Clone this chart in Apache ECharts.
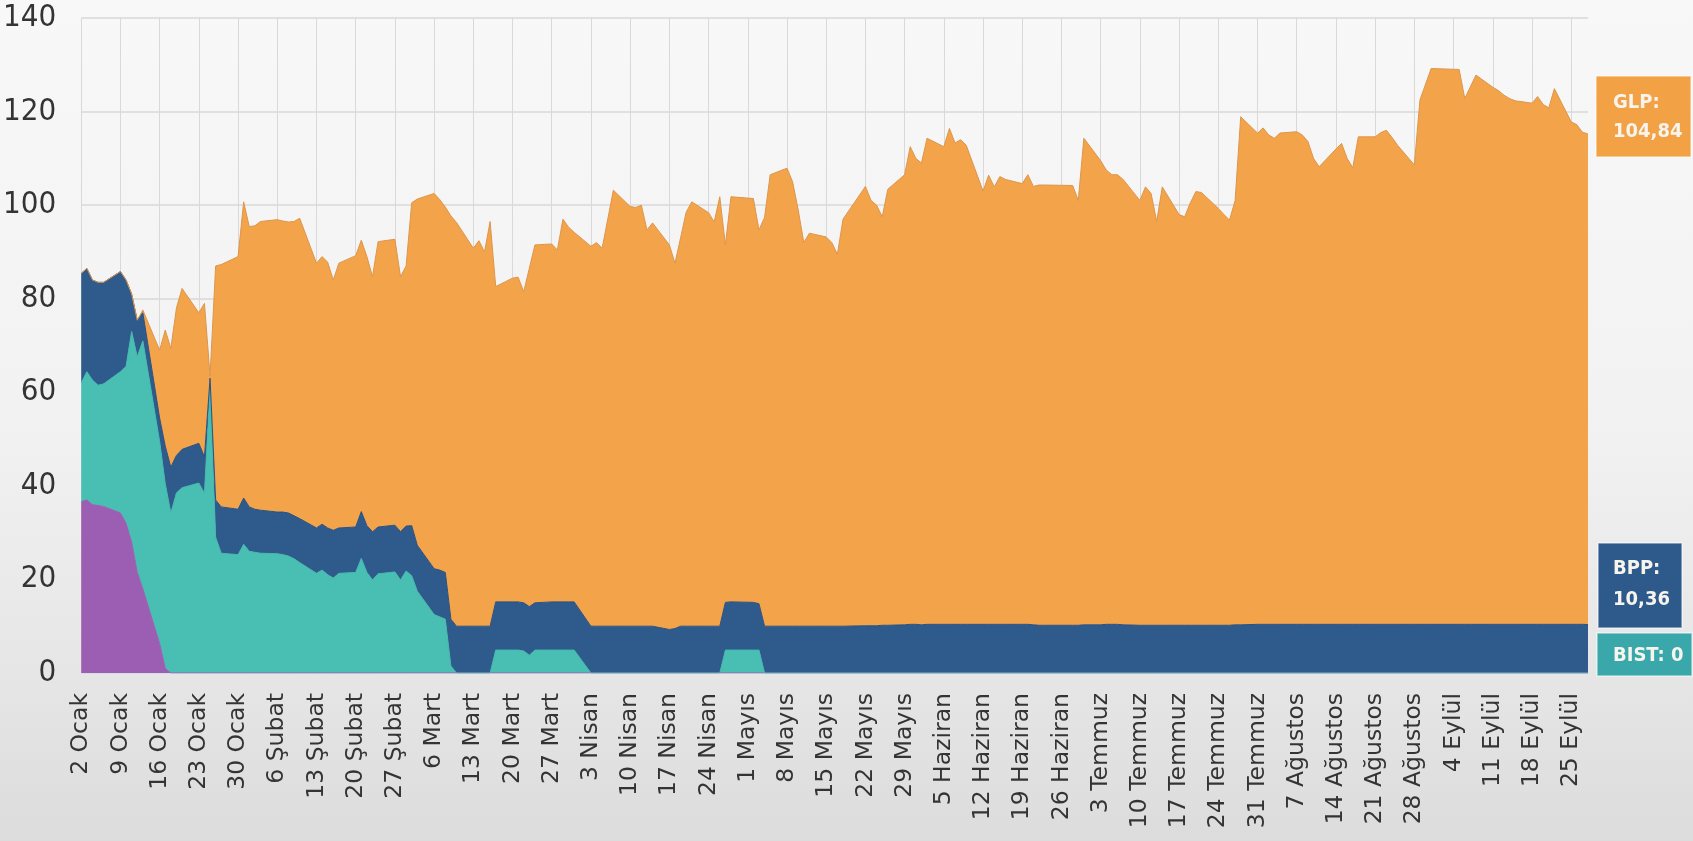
<!DOCTYPE html>
<html>
<head>
<meta charset="utf-8">
<script src="https://cdn.jsdelivr.net/npm/echarts@6/dist/echarts.min.js"></script>
<style>
  html, body { margin: 0; padding: 0; width: 1693px; height: 841px; overflow: hidden; }
  #chart { width: 1693px; height: 841px; }
</style>
</head>
<body>
<div id="chart"></div>
<script>
// Business days from 2 Ocak to 28 Eylül 2017, official holidays left out
const startDate = [2017, 0, 2];
const endDate = [2017, 8, 28];
const holidays = ['2017-05-01', '2017-05-19', '2017-06-26', '2017-06-27', '2017-08-30', '2017-09-01', '2017-09-04'];
const monthNames = ['Ocak', 'Şubat', 'Mart', 'Nisan', 'Mayıs', 'Haziran', 'Temmuz', 'Ağustos', 'Eylül', 'Ekim', 'Kasım', 'Aralık'];
const yTicks = { min: 0, max: 140, step: 20 };

// Funding by channel (milyar TL), one row per week
const diger = [
  36.6, 37, 36, 35.8, 35.6,
  34.2, 32, 28, 21.5, 18,
  6.3, 1, 0, 0, 0,
  0, 0, 0, 0, 0,
  0, 0, 0, 0, 0,
  0, 0, 0, 0, 0,
  0, 0, 0, 0, 0,
  0, 0, 0, 0, 0,
  0, 0, 0, 0, 0,
  0, 0, 0, 0, 0,
  0, 0, 0, 0, 0,
  0, 0, 0, 0, 0,
  0, 0, 0, 0, 0,
  0, 0, 0, 0, 0,
  0, 0, 0, 0, 0,
  0, 0, 0, 0, 0,
  0, 0, 0, 0, 0,
  0, 0, 0, 0,
  0, 0, 0, 0, 0,
  0, 0, 0, 0,
  0, 0, 0, 0, 0,
  0, 0, 0, 0, 0,
  0, 0, 0, 0, 0,
  0, 0, 0, 0, 0,
  0, 0, 0, 0, 0,
  0, 0, 0,
  0, 0, 0, 0, 0,
  0, 0, 0, 0, 0,
  0, 0, 0, 0, 0,
  0, 0, 0, 0, 0,
  0, 0, 0, 0, 0,
  0, 0, 0, 0, 0,
  0, 0, 0, 0, 0,
  0, 0, 0, 0, 0,
  0, 0, 0,
  0, 0, 0, 0,
  0, 0, 0, 0, 0,
  0, 0, 0, 0, 0,
  0, 0, 0, 0
];

const bist = [
  25.4, 27.4, 26.6, 25.7, 26.2,
  30.2, 33.5, 45, 46.1, 53,
  43.2, 39.5, 34.2, 38.5, 39.6,
  40.6, 38.4, 61, 29, 25.6,
  25.3, 27.5, 26, 25.8, 25.6,
  25.5, 25.3, 25, 24.4, 23.6,
  21.3, 22, 21, 20.3, 21.3,
  21.5, 24.5, 21.5, 19.9, 21.2,
  21.6, 19.9, 21.8, 20.8, 17.5,
  12.5, 12, 11.5, 1.5, 0,
  0, 0, 0, 0, 4.9,
  4.9, 4.9, 4.7, 3.8, 4.9,
  4.9, 4.9, 4.9, 4.9, 4.9,
  0, 0, 0, 0, 0,
  0, 0, 0, 0, 0,
  0, 0, 0, 0, 0,
  0, 0, 0, 4.9, 4.9,
  4.9, 4.9, 0, 0,
  0, 0, 0, 0, 0,
  0, 0, 0, 0,
  0, 0, 0, 0, 0,
  0, 0, 0, 0, 0,
  0, 0, 0, 0, 0,
  0, 0, 0, 0, 0,
  0, 0, 0, 0, 0,
  0, 0, 0,
  0, 0, 0, 0, 0,
  0, 0, 0, 0, 0,
  0, 0, 0, 0, 0,
  0, 0, 0, 0, 0,
  0, 0, 0, 0, 0,
  0, 0, 0, 0, 0,
  0, 0, 0, 0, 0,
  0, 0, 0, 0, 0,
  0, 0, 0,
  0, 0, 0, 0,
  0, 0, 0, 0, 0,
  0, 0, 0, 0, 0,
  0, 0, 0, 0
];

const bpp = [
  23.4, 22.1, 21.4, 22, 21.7,
  21.4, 18.5, 8, 7.8, 6,
  5, 8, 9.8, 8, 8.2,
  8.5, 7.8, 2, 8, 9.9,
  9.7, 9.9, 9.5, 9.2, 9.2,
  8.9, 9.1, 9.2, 9.2, 9.4,
  9.7, 9.8, 10, 10.2, 9.7,
  9.7, 10, 10, 10.3, 10,
  10, 10.3, 9.6, 10.7, 9.8,
  9.8, 10, 10, 10, 10,
  10, 10, 10, 10, 10.3,
  10.3, 10.3, 10.3, 10.4, 10.1,
  10.3, 10.3, 10.3, 10.3, 10.3,
  10, 10, 10, 10, 10,
  10, 10, 10, 10, 10,
  9.3, 9.5, 10, 10, 10,
  10, 10, 10, 10.2, 10.3,
  10.2, 9.9, 10, 10,
  10, 10, 10, 10, 10,
  10, 10, 10, 10,
  10.1, 10.1, 10.1, 10.2, 10.2,
  10.3, 10.4, 10.4, 10.3, 10.4,
  10.4, 10.4, 10.4, 10.4, 10.4,
  10.4, 10.4, 10.4, 10.4, 10.4,
  10.4, 10.4, 10.3, 10.2, 10.2,
  10.2, 10.2, 10.3,
  10.3, 10.4, 10.4, 10.4, 10.3,
  10.2, 10.2, 10.2, 10.2, 10.2,
  10.2, 10.2, 10.2, 10.2, 10.2,
  10.2, 10.2, 10.2, 10.3, 10.3,
  10.4, 10.4, 10.4, 10.4, 10.4,
  10.4, 10.4, 10.4, 10.4, 10.4,
  10.4, 10.4, 10.4, 10.4, 10.4,
  10.4, 10.4, 10.4, 10.4, 10.4,
  10.4, 10.4, 10.4,
  10.4, 10.4, 10.4, 10.4,
  10.4, 10.4, 10.4, 10.4, 10.4,
  10.4, 10.4, 10.4, 10.4, 10.4,
  10.4, 10.4, 10.4, 10.36
];

const glp = [
  0, 0, 0, 0, 0,
  0, 0, 0, 0, 0.6,
  14.5, 24.8, 25.4, 31.5, 34.4,
  27.9, 32.8, 0.5, 50, 51.8,
  54, 63.3, 59.9, 60.6, 61.7,
  62.5, 62.2, 62.2, 62.9, 64.2,
  56.6, 57.2, 56.8, 53.5, 56.6,
  58, 58, 57.5, 54.5, 61,
  61.1, 54.5, 55.6, 69, 74,
  80.2, 79.2, 78.1, 86.2, 86.3,
  80.8, 82.4, 80, 86.5, 67.4,
  69.2, 69.4, 66.5, 72.3, 76.5,
  76.5, 75.2, 81.8, 80.1, 79,
  81.2, 82, 80.8, 87, 93.2,
  89.7, 89.5, 90, 84.7, 86.2,
  82.2, 78.1, 83, 88.5, 90.7,
  88.4, 86.4, 91.8, 76.4, 86.6,
  86.3, 79.9, 87.4, 96.5,
  97.9, 95, 89, 82, 84,
  83.2, 82, 79.5, 87,
  93.9, 90.9, 89.9, 87.3, 93.2,
  96.2, 102.1, 99.6, 98.7, 103.9,
  102.1, 106, 102.9, 103.6, 102.4,
  92.6, 96, 93.5, 95.7, 95.1,
  94.2, 96.1, 93.7, 94.1, 94.1,
  94, 90.8, 104,
  99.2, 97.1, 96.1, 96.1, 95.2,
  90.8, 93.7, 92.3, 86.3, 93.7,
  87.8, 87.3, 90.3, 92.7, 92.5,
  89.1, 87.8, 86.6, 90.7, 108.6,
  105, 106.1, 104.6, 103.9, 105,
  105.3, 104.6, 103.2, 99.6, 97.8,
  101.6, 102.8, 99.6, 97.6, 104.2,
  104.2, 105.1, 105.6, 104.1, 102.4,
  98.2, 112.1, 118.8,
  118.6, 112.4, 114.9, 117.4,
  114.8, 114.1, 113.1, 112.4, 111.9,
  111.4, 112.8, 111.1, 110.4, 114.5,
  107.4, 106.8, 105.2, 104.84
];

const DAY = 86400000;
const t0 = Date.UTC(startDate[0], startDate[1], startDate[2]);
const tEnd = Date.UTC(endDate[0], endDate[1], endDate[2]);

function isoDay(t) {
  return new Date(t).toISOString().slice(0, 10);
}

const dates = [];
for (let t = t0; t <= tEnd; t += DAY) {
  const wd = new Date(t).getUTCDay();
  if (wd === 0 || wd === 6) continue;
  if (holidays.indexOf(isoDay(t)) >= 0) continue;
  dates.push(t);
}

function pairs(values) {
  return dates.map((t, i) => [t, values[i]]);
}

function dayLabel(offset) {
  const d = new Date(t0 + offset * DAY);
  return d.getUTCDate() + ' ' + monthNames[d.getUTCMonth()];
}

function trNumber(v) {
  return Number.isInteger(v) ? String(v) : v.toFixed(2).replace('.', ',');
}

const narrow = "'Liberation Sans Narrow', 'DejaVu Sans Condensed', 'Liberation Sans', sans-serif";

function areaSeries(name, values, fill, edge) {
  return {
    name: name,
    type: 'line',
    stack: 'fonlama',
    xAxisIndex: 0,
    data: pairs(values),
    showSymbol: false,
    symbol: 'none',
    smooth: false,
    lineStyle: { color: edge, width: 1 },
    itemStyle: { color: fill },
    areaStyle: { color: fill, opacity: 1 }
  };
}

const last = dates.length - 1;

function boxLabel(x, y, w, h, fill, textX, textY, text, lineHeight) {
  return {
    type: 'group',
    children: [
      {
        type: 'rect',
        shape: { x: x, y: y, width: w, height: h },
        style: { fill: fill, stroke: 'rgba(255,255,255,0.55)', lineWidth: 1.5 }
      },
      {
        type: 'text',
        x: textX,
        y: textY,
        style: {
          text: text,
          fill: '#f7f4ee',
          font: 'bold 20px ' + narrow,
          lineHeight: lineHeight,
          textAlign: 'left',
          textVerticalAlign: 'middle'
        }
      }
    ]
  };
}

const chart = echarts.init(document.getElementById('chart'), null, { renderer: 'canvas' });

chart.setOption({
  animation: false,
  backgroundColor: {
    type: 'linear', x: 0, y: 0, x2: 0, y2: 1,
    colorStops: [
      { offset: 0, color: '#f8f8f8' },
      { offset: 0.5, color: '#f2f2f2' },
      { offset: 0.82, color: '#e5e5e5' },
      { offset: 1, color: '#dcdcdc' }
    ]
  },
  grid: { left: 77, right: 105, top: 18, bottom: 168, containLabel: false },
  xAxis: [
    {
      type: 'time',
      min: t0,
      max: tEnd,
      show: false
    },
    {
      type: 'value',
      position: 'bottom',
      min: 0,
      max: (tEnd - t0) / DAY,
      interval: 7,
      axisLine: { show: true, lineStyle: { color: '#d6dde5', width: 1.5 } },
      axisTick: { show: false },
      splitLine: { show: true, showMaxLine: false, lineStyle: { color: '#d9d9d9', width: 1 } },
      axisLabel: {
        rotate: 90,
        margin: 20,
        color: '#343434',
        fontSize: 23.5,
        fontFamily: "'DejaVu Sans', sans-serif",
        showMaxLabel: false,
        formatter: function (v) { return v % 7 === 0 ? dayLabel(v) : ''; }
      }
    }
  ],
  yAxis: {
    type: 'value',
    min: yTicks.min,
    max: yTicks.max,
    interval: yTicks.step,
    axisLine: { show: false },
    axisTick: { show: false },
    splitLine: { show: true, lineStyle: { color: '#d9d9d9', width: 1.5 } },
    axisLabel: {
      margin: 25,
      color: '#343434',
      fontSize: 31,
      fontFamily: narrow
    }
  },
  series: [
    areaSeries('Diğer', diger, '#9c5eb2', '#9c5eb2'),
    areaSeries('BIST', bist, '#49bfb4', '#45b8ad'),
    areaSeries('BPP', bpp, '#2e5a8c', '#2a5080'),
    areaSeries('GLP', glp, '#f3a44a', '#dc964c')
  ],
  graphic: [
    boxLabel(1596, 76, 95, 81, '#f2a145', 1613, 117.5, 'GLP:\n' + trNumber(glp[last]), 29),
    boxLabel(1598, 543, 84, 85, '#2d5a8b', 1613, 584, 'BPP:\n' + trNumber(bpp[last]), 31),
    boxLabel(1597, 633, 95, 43, '#3aa8ab', 1613, 656, 'BIST: ' + trNumber(bist[last]), 24)
  ]
});
</script>
</body>
</html>
